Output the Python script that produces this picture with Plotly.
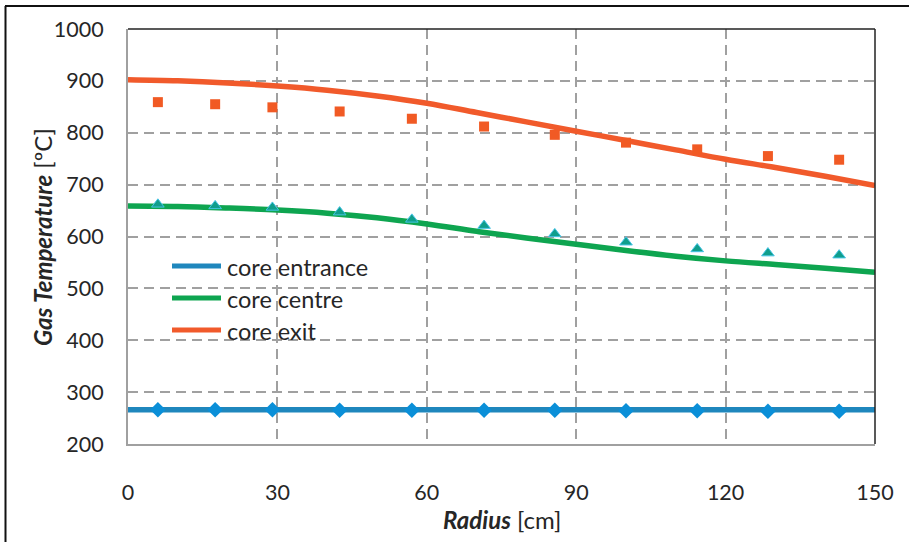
import plotly.graph_objects as go

# ---- data ----
radius_model = [0, 10, 20, 30, 40, 50, 60, 70, 80, 90, 100, 110, 120, 130, 140, 150]
entrance_model = [266, 266, 266, 266, 266, 266, 266, 266, 266, 266, 266, 266, 266, 266, 266, 266]
centre_model = [659, 658, 655, 651, 645, 636, 624, 610, 597, 585, 573, 562, 553, 546, 539, 531]
exit_model = [902, 900, 896, 890, 882, 871, 857, 839, 821, 803, 785, 767, 749, 733, 716, 698]

radius_meas = [6, 17.5, 29, 42.5, 57, 71.5, 85.7, 100, 114.3, 128.5, 142.8]
entrance_meas = [266, 266, 266, 265, 265, 265, 265, 264, 264, 263, 263]
centre_meas = [662, 659, 656, 647, 633, 621, 605, 589, 576, 568, 564]
exit_meas = [859, 855, 849, 841, 827, 812, 796, 781, 768, 755, 748]

legend_names = ["core entrance", "core centre", "core exit"]
x_ticks = [0, 30, 60, 90, 120, 150]
y_ticks = [200, 300, 400, 500, 600, 700, 800, 900, 1000]

# ---- styles ----
LINE_COLORS = ["#1f87bd", "#0ea550", "#f15a2b"]
FONT = "Lato, 'Open Sans', sans-serif"
TXT = "#262626"

fig = go.Figure()

for name, y, c in zip(legend_names, [entrance_model, centre_model, exit_model], LINE_COLORS):
    fig.add_trace(go.Scatter(x=radius_model, y=y, mode="lines", name=name,
                             line=dict(color=c, width=5.5, shape="spline", smoothing=1.0),
                             showlegend=False))

fig.add_trace(go.Scatter(x=radius_meas, y=entrance_meas, mode="markers", showlegend=False,
                         marker=dict(symbol="diamond", size=12, color="#0a8fd8", line=dict(width=0))))
fig.add_trace(go.Scatter(x=radius_meas, y=centre_meas, mode="markers", showlegend=False,
                         marker=dict(symbol="triangle-up", size=11, color="#109e8c",
                                     line=dict(width=1, color="#45c4e6"))))
fig.add_trace(go.Scatter(x=radius_meas, y=exit_meas, mode="markers", showlegend=False,
                         marker=dict(symbol="square", size=10, color="#f15a24", line=dict(width=0))))

L, R, T, B = 128, 34, 29, 98
W, H = 909, 542
PW, PH = W - L - R, H - T - B

def px2paper_x(px):
    return (px - L) / PW

def px2paper_y(py):
    return (H - B - py) / PH

shapes = [
    dict(type="line", xref="paper", yref="paper", x0=0, x1=1, y0=1, y1=1,
         line=dict(color="#222222", width=1.5)),
    dict(type="line", xref="paper", yref="paper", x0=1, x1=1, y0=0, y1=1,
         line=dict(color="#222222", width=1.5)),
    dict(type="line", xref="paper", yref="paper", x0=px2paper_x(5), x1=px2paper_x(W + 5),
         y0=px2paper_y(6), y1=px2paper_y(6), line=dict(color="#111111", width=2)),
    dict(type="line", xref="paper", yref="paper", x0=px2paper_x(5.5), x1=px2paper_x(5.5),
         y0=px2paper_y(6), y1=px2paper_y(H + 5), line=dict(color="#111111", width=2)),
]

annotations = []
legend_y = [266, 298, 330]
for name, c, ly in zip(legend_names, LINE_COLORS, legend_y):
    shapes.append(dict(type="line", xref="paper", yref="paper",
                       x0=px2paper_x(172), x1=px2paper_x(221),
                       y0=px2paper_y(ly), y1=px2paper_y(ly),
                       line=dict(color=c, width=5)))
    annotations.append(dict(text=name, xref="paper", yref="paper",
                            x=px2paper_x(225), y=px2paper_y(ly + 1),
                            xanchor="left", yanchor="middle", showarrow=False,
                            font=dict(family=FONT, size=23.5, color=TXT)))

annotations.append(dict(text="<b><i>Radius</i></b> [cm]", xref="paper", yref="paper",
                        x=0.5, y=px2paper_y(519), xanchor="center", yanchor="middle",
                        showarrow=False, font=dict(family=FONT, size=24, color=TXT)))
annotations.append(dict(text="<b><i>Gas Temperature</i></b> [ºC]", xref="paper", yref="paper",
                        x=px2paper_x(43), y=px2paper_y(237), xanchor="center", yanchor="middle",
                        textangle=-90, showarrow=False, font=dict(family=FONT, size=24, color=TXT)))

fig.update_layout(
    width=W, height=H,
    margin=dict(l=L, r=R, t=T, b=B, autoexpand=False),
    paper_bgcolor="white", plot_bgcolor="white",
    showlegend=False,
    shapes=shapes, annotations=annotations,
    font=dict(family=FONT, size=21, color=TXT),
)
fig.update_xaxes(range=[0, 150], tickvals=x_ticks, ticktext=[str(v) for v in x_ticks],
                 showgrid=True, gridcolor="#a0a0a0", gridwidth=1.6, griddash="10px,6px",
                 showline=True, linecolor="#a0a0a0", linewidth=2, zeroline=False,
                 ticks="", ticklabelstandoff=28, automargin=False,
                 tickfont=dict(family=FONT, size=21.5, color=TXT))
fig.update_yaxes(range=[200, 1000], tickvals=y_ticks, ticktext=[str(v) for v in y_ticks],
                 showgrid=True, gridcolor="#a0a0a0", gridwidth=1.6, griddash="10px,6px",
                 showline=True, linecolor="#a0a0a0", linewidth=2, zeroline=False,
                 ticks="", ticklabelstandoff=18, automargin=False,
                 tickfont=dict(family=FONT, size=21.5, color=TXT))

fig.write_html("out.html")
